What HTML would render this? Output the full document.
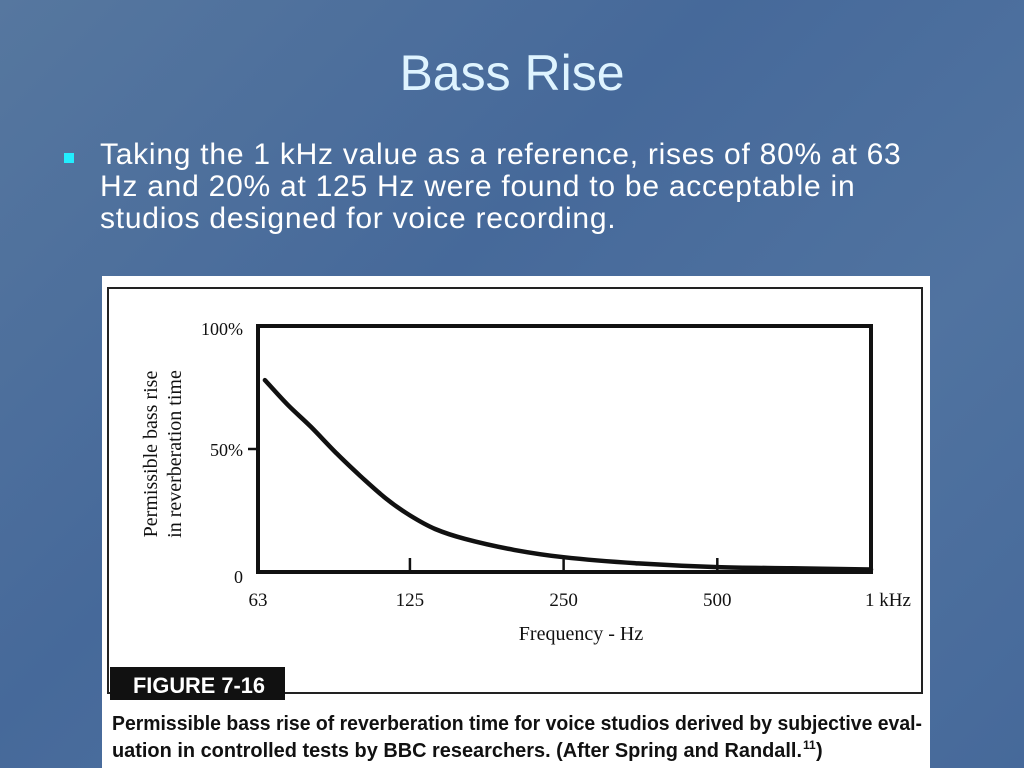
<!DOCTYPE html>
<html><head><meta charset="utf-8"><style>
body{margin:0;width:1024px;height:768px;overflow:hidden;background:linear-gradient(135deg,#56779f,#46699a 40%,#5073a0 70%,#46699a);font-family:"Liberation Sans",sans-serif;position:relative}
#title{position:absolute;top:44px;left:0;width:1024px;text-align:center;color:#dff4ff;font-size:50px}
#bullet{position:absolute;left:100px;top:139px;width:920px;color:#fff;font-size:30px;line-height:32px;letter-spacing:0.75px;white-space:nowrap}
#bsq{position:absolute;left:64px;top:153px;width:10px;height:10px;background:#2ef}
#panel{position:absolute;left:102px;top:276px;width:828px;height:492px;background:#fff}
</style></head><body>
<div id="title">Bass Rise</div>
<div id="bsq"></div>
<div id="bullet">Taking the 1 kHz value as a reference, rises of 80% at 63<br>Hz and 20% at 125 Hz were found to be acceptable in<br>studios designed for voice recording.</div>
<div id="panel"></div>
<svg id="chart" width="1024" height="768" style="position:absolute;left:0;top:0">
<rect x="108" y="288" width="814" height="405" fill="none" stroke="#222" stroke-width="2"/>
<rect x="110" y="667" width="175" height="33" fill="#111"/>
<text x="133" y="693" fill="#fff" font-size="22" font-weight="bold" textLength="132" lengthAdjust="spacingAndGlyphs">FIGURE 7-16</text>
<text x="112" y="730" font-size="20" font-weight="bold" fill="#111" textLength="810" lengthAdjust="spacingAndGlyphs">Permissible bass rise of reverberation time for voice studios derived by subjective eval-</text>
<text x="112" y="757" font-size="20" font-weight="bold" fill="#111" textLength="690" lengthAdjust="spacingAndGlyphs">uation in controlled tests by BBC researchers. (After Spring and Randall.</text>
<text x="803" y="749" font-size="12" font-weight="bold" fill="#111">11</text>
<text x="816" y="757" font-size="20" font-weight="bold" fill="#111">)</text>
<g id="plot"></g>
</svg>
<script>
const xTickFreqs=[63,125,250,500,1000];
const xTickLabels=["63","125","250","500","1 kHz"];
const yTickVals=[0,50,100];
const yTickLabels=["0","50%","100%"];
const curveFreqs=[65,72,80,90,100,112,125,140,160,200,250,350,500,700,1000];
const curveVals=[78,68,59,48,39,30,23,17.5,13.5,9,6,3.5,2,1.5,1];
const X0=258,X1=871,Y0=572,Y1=326;
const fx=f=>X0+(Math.log2(f/63)/Math.log2(1000/63))*(X1-X0);
const fy=v=>Y0-v/100*(Y0-Y1);
const g=document.getElementById('plot');
const NS='http://www.w3.org/2000/svg';
function mk(t,a){const e=document.createElementNS(NS,t);for(const k in a)e.setAttribute(k,a[k]);g.appendChild(e);return e;}
const box=mk('rect',{x:X0,y:Y1,width:X1-X0,height:Y0-Y1,fill:'none',stroke:'#111','stroke-width':4});


xTickFreqs.forEach((f,i)=>{
 if(i>0&&i<xTickFreqs.length-1){const t=mk('line',{x1:fx(f),x2:fx(f),y1:Y0,y2:Y0-14,stroke:'#111','stroke-width':2.5});
 
 }
 const l=mk('text',{x:fx(f)+(i==4?-6:0),y:606,'text-anchor':i==4?'start':'middle','font-family':'Liberation Serif, serif','font-size':19,fill:'#111'});
 l.textContent=xTickLabels[i];
 
 
});
yTickVals.forEach((v,i)=>{
 if(v==50){const t=mk('line',{x1:X0-10,x2:X0,y1:fy(v),y2:fy(v),stroke:'#111','stroke-width':2.5});
 
 }
 const l=mk('text',{x:243,y:fy(v)+(v==100?9:7)+(v==0?4:0),'text-anchor':'end','font-family':'Liberation Serif, serif','font-size':18,fill:'#111'});
 l.textContent=yTickLabels[i];
 
 
});
// smooth curve via Catmull-Rom
const pts=curveFreqs.map((f,i)=>[fx(f),fy(curveVals[i])]);
let d='M'+pts[0][0].toFixed(1)+','+pts[0][1].toFixed(1);
for(let i=0;i<pts.length-1;i++){
 const p0=pts[Math.max(0,i-1)],p1=pts[i],p2=pts[i+1],p3=pts[Math.min(pts.length-1,i+2)];
 const c1=[p1[0]+(p2[0]-p0[0])/6,p1[1]+(p2[1]-p0[1])/6],c2=[p2[0]-(p3[0]-p1[0])/6,p2[1]-(p3[1]-p1[1])/6];
 d+=`C${c1[0].toFixed(1)},${c1[1].toFixed(1)} ${c2[0].toFixed(1)},${c2[1].toFixed(1)} ${p2[0].toFixed(1)},${p2[1].toFixed(1)}`;
}
const p=mk('path',{d:d,fill:'none',stroke:'#111','stroke-width':4.5,'stroke-linecap':'round'});


const xt=mk('text',{x:581,y:640,'text-anchor':'middle','font-family':'Liberation Serif, serif','font-size':20,fill:'#111'});
xt.textContent='Frequency - Hz';


['Permissible bass rise','in reverberation time'].forEach((s,i)=>{
 const t=mk('text',{x:0,y:0,transform:`translate(${157+i*24},454) rotate(-90)`,'text-anchor':'middle','font-family':'Liberation Serif, serif','font-size':20,fill:'#111'});
 t.textContent=s;
 
 
});
</script>
</body></html>
